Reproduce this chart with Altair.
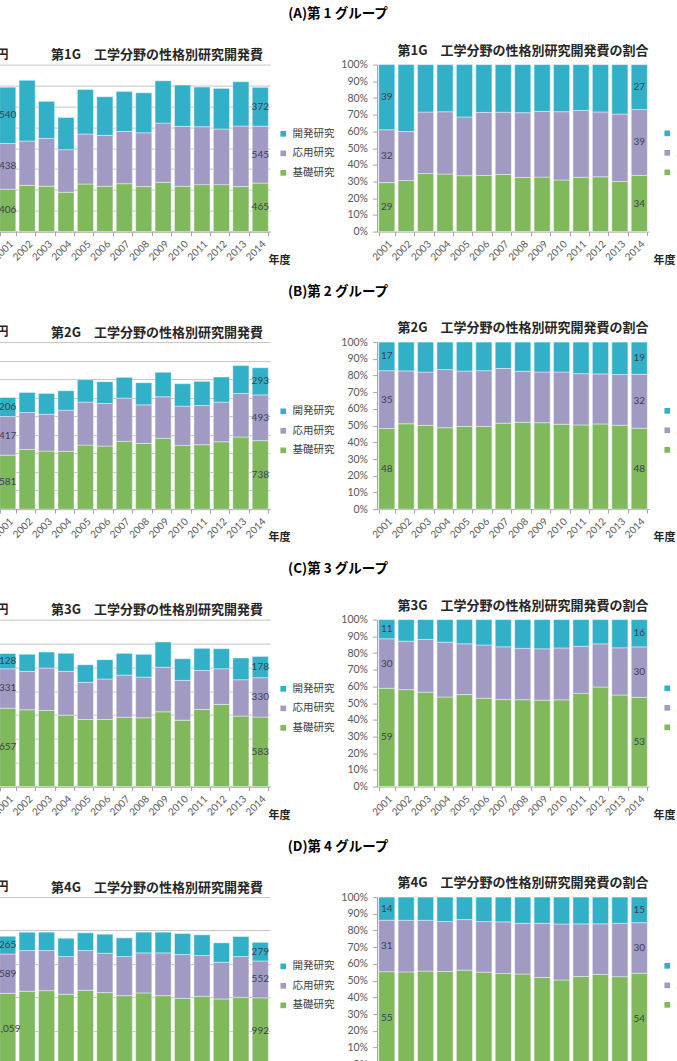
import altair as alt
import pandas as pd

# ---------------- data ----------------
years = [str(y) for y in range(2001, 2015)]
categories = ["基礎研究", "応用研究", "開発研究"]          # stacking order, bottom -> top
legend_order = ["開発研究", "応用研究", "基礎研究"]
legend_colors = ["#31B0C8", "#A19BC4", "#80B85C"]
label_years = ["2001", "2014"]

g1_basic = [406, 443, 434, 377, 456, 434, 459, 431, 472, 434, 450, 450, 431, 465]
g1_applied = [438, 425, 459, 408, 479, 488, 501, 516, 568, 574, 555, 533, 580, 545]
g1_dev = [540, 581, 355, 309, 427, 370, 383, 383, 405, 396, 380, 389, 425, 372]

g2_basic = [581, 643, 625, 622, 690, 679, 730, 708, 763, 687, 694, 726, 777, 738]
g2_applied = [417, 398, 398, 444, 463, 459, 466, 416, 448, 423, 423, 427, 470, 493]
g2_dev = [206, 217, 224, 210, 242, 235, 224, 238, 264, 242, 260, 271, 300, 293]

g3_basic = [657, 644, 638, 599, 563, 563, 582, 577, 627, 557, 647, 689, 591, 583]
g3_applied = [331, 322, 356, 367, 311, 339, 353, 341, 373, 333, 327, 299, 305, 330]
g3_dev = [128, 143, 134, 151, 148, 162, 182, 191, 212, 182, 185, 168, 182, 178]

g4_basic = [1059, 1090, 1100, 1045, 1105, 1070, 1025, 1065, 1025, 985, 1015, 975, 1000, 992]
g4_applied = [589, 610, 600, 565, 595, 590, 585, 600, 640, 655, 610, 550, 610, 552]
g4_dev = [265, 275, 275, 275, 265, 285, 280, 310, 310, 315, 310, 290, 300, 279]

group_titles = ["(A)第 1 グループ", "(B)第 2 グループ", "(C)第 3 グループ", "(D)第 4 グループ"]
left_titles = ["第1G　工学分野の性格別研究開発費", "第2G　工学分野の性格別研究開発費",
               "第3G　工学分野の性格別研究開発費", "第4G　工学分野の性格別研究開発費"]
right_titles = [t + "の割合" for t in left_titles]
y_max = [1600, 1800, 1400, 2500]
y_step = [200, 200, 200, 500]
pct_ticks = [0, 0.1, 0.2, 0.3, 0.4, 0.5, 0.6, 0.7, 0.8, 0.9, 1.0]

groups = [
    (g1_basic, g1_applied, g1_dev),
    (g2_basic, g2_applied, g2_dev),
    (g3_basic, g3_applied, g3_dev),
    (g4_basic, g4_applied, g4_dev),
]

# ---------------- style ----------------
W, H = 272, 167
JP = "Noto Sans CJK JP"
NUM = "Lato"
AXIS_GRAY = "#A6A6A6"
LABEL_GRAY = "#595959"
VALUE_COLOR = "#3B4252"

color_scale = alt.Scale(domain=legend_order, range=legend_colors)


def long_df(b, a, d):
    rows = []
    for i, y in enumerate(years):
        for k, (c, arr) in enumerate(zip(categories, (b, a, d))):
            rows.append({"year": y, "cat": c, "value": arr[i], "ord": k})
    return pd.DataFrame(rows)


def legend(lx, ly):
    return alt.Legend(title=None, orient="none", legendX=lx, legendY=ly,
                      symbolType="square", symbolSize=32, symbolStrokeWidth=0,
                      labelFont=JP, labelFontSize=10.5, labelColor="#404040",
                      rowPadding=8.5, labelOffset=4, padding=0)


def x_axis(title_x):
    return alt.Axis(title="年度", titleAngle=0, titleAlign="left", titleBaseline="middle",
                    titleX=title_x, titleY=28.5, titleFont=JP, titleFontSize=11,
                    titleFontWeight="bold", titleColor="#262626",
                    labelAngle=-45, labelFont=NUM, labelFontSize=10, labelColor=LABEL_GRAY,
                    labelPadding=3, labelOverlap=False, tickBand="extent", tickSize=4,
                    tickColor=AXIS_GRAY, domainColor=AXIS_GRAY, grid=False)


def y_axis_abs(ymax, step):
    return alt.Axis(title="億円", titleAngle=0, titleAlign="right",
                    titleBaseline="middle", titleX=10, titleY=-10.5,
                    titleFont=JP, titleFontSize=12, titleFontWeight="bold",
                    titleColor="#262626",
                    values=list(range(0, ymax + 1, step)), grid=True,
                    gridColor="#C4C4C4", gridWidth=1, labels=False,
                    ticks=False, domain=False)


def y_axis_pct():
    return alt.Axis(title=None, format=".0%", values=pct_ticks, grid=False,
                    labelOverlap=False, tickSize=4.5, tickColor=AXIS_GRAY,
                    domainColor=AXIS_GRAY, labelFont=NUM, labelFontSize=10.5,
                    labelColor=LABEL_GRAY, labelPadding=5)


def text_layer(txt, x, y, size, color="#262626"):
    return alt.Chart(pd.DataFrame({"t": [txt]})).mark_text(
        font=JP, fontSize=size, fontWeight="bold", color=color,
        align="center", baseline="middle").encode(
        x=alt.value(x), y=alt.value(y), text="t:N")


xscale = alt.Scale(paddingInner=0.17, paddingOuter=0.085)
bar_style = dict(stroke="white", strokeWidth=0.7, strokeOpacity=0.6)

panels = []
for gi, (b, a, d) in enumerate(groups):
    df = long_df(b, a, d)
    ymax, step = y_max[gi], y_step[gi]
    yscale_abs = alt.Scale(domain=[0, ymax], nice=False)
    yscale_pct = alt.Scale(domain=[0, 1], nice=False)

    # ----- left: absolute values -----
    bars = alt.Chart(df).mark_bar(**bar_style).encode(
        x=alt.X("year:O", scale=xscale, axis=x_axis(270)),
        y=alt.Y("value:Q", stack="zero", scale=yscale_abs, axis=y_axis_abs(ymax, step)),
        color=alt.Color("cat:N", scale=color_scale, legend=legend(280, 64)),
        order=alt.Order("ord:Q", sort="ascending"),
    )
    vals = alt.Chart(df).transform_filter(
        alt.FieldOneOfPredicate(field="year", oneOf=label_years)
    ).transform_window(
        cum="sum(value)", groupby=["year"], sort=[alt.SortField("ord", order="ascending")],
        frame=[None, 0]
    ).transform_calculate(
        mid="datum.cum - datum.value / 2"
    ).mark_text(font=NUM, fontSize=10, color=VALUE_COLOR).encode(
        x=alt.X("year:O", scale=xscale, axis=x_axis(270)),
        y=alt.Y("mid:Q", scale=yscale_abs, axis=y_axis_abs(ymax, step)),
        text=alt.Text("value:Q", format=",")
    )
    left = alt.layer(
        bars, vals,
        text_layer(left_titles[gi], 159, -9.5, 13),
        text_layer(group_titles[gi], 340, -50.5, 13.5, "#000000"),
    ).properties(width=W, height=H)

    # ----- right: shares -----
    pbars = alt.Chart(df).mark_bar(**bar_style).encode(
        x=alt.X("year:O", scale=xscale, axis=x_axis(276)),
        y=alt.Y("value:Q", stack="normalize", scale=yscale_pct, axis=y_axis_pct()),
        color=alt.Color("cat:N", scale=color_scale, legend=legend(285, 63.5)),
        order=alt.Order("ord:Q", sort="ascending"),
    )
    pvals = alt.Chart(df).transform_filter(
        alt.FieldOneOfPredicate(field="year", oneOf=label_years)
    ).transform_joinaggregate(
        total="sum(value)", groupby=["year"]
    ).transform_window(
        cum="sum(value)", groupby=["year"], sort=[alt.SortField("ord", order="ascending")],
        frame=[None, 0]
    ).transform_calculate(
        mid="(datum.cum - datum.value / 2) / datum.total",
        pct="datum.value / datum.total * 100",
    ).mark_text(font=NUM, fontSize=10, color=VALUE_COLOR).encode(
        x=alt.X("year:O", scale=xscale, axis=x_axis(276)),
        y=alt.Y("mid:Q", scale=yscale_pct, axis=y_axis_pct()),
        text=alt.Text("pct:Q", format=".0f")
    )
    right = alt.layer(
        pbars, pvals,
        text_layer(right_titles[gi], 146, -14, 13),
    ).properties(width=W, height=H)

    panels += [left, right]

chart = alt.concat(
    *panels, columns=2, spacing={"row": 110.5, "column": 107}, bounds="flush"
).resolve_scale(
    color="independent"
).properties(
    autosize=alt.AutoSizeParams(type="none"),
    padding={"left": -2, "top": 64.6, "right": 679, "bottom": 996.4},
    background="white",
).configure_view(
    stroke=None
).configure_axis(
    labelOverlap=False
)

chart.save("out.html", embed_options={"renderer": "svg", "actions": False})
